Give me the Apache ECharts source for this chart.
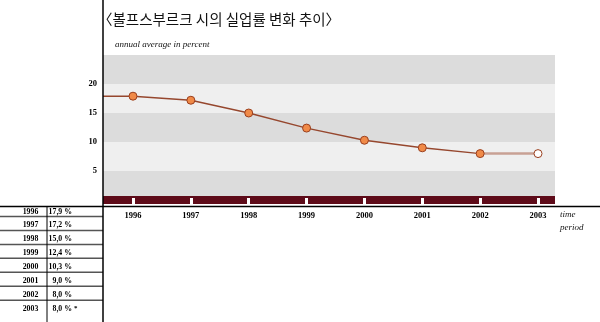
<!DOCTYPE html>
<html>
<head>
<meta charset="utf-8">
<script src="https://cdn.jsdelivr.net/npm/echarts@6/dist/echarts.min.js"></script>
<style>
  html, body { margin: 0; padding: 0; background: #fff; }
  #chart { width: 600px; height: 322px; }
</style>
</head>
<body>
<div id="chart"></div>
<script>
// Unemployment rate, Wolfsburg, annual average in percent
const years = [1996, 1997, 1998, 1999, 2000, 2001, 2002, 2003];
const rates = [17.9, 17.2, 15.0, 12.4, 10.3, 9.0, 8.0, 8.0];
const estimatedYears = [2003];
const yTickValues = [5, 10, 15, 20];
const bandEdges = [0, 5, 10, 15, 20, 25];
const titleText = '〈볼프스부르크 시의 실업률 변화 추이〉';
const unitText = 'annual average in percent';
const xAxisName = ['time', 'period'];

// Layout & style
const X_MIN = 1995.4815, X_MAX = 2003.2938;
const SERIF = '"Liberation Serif", "DejaVu Serif", serif';
const LINE_COLOR = '#96472e';
const LINE_LIGHT = '#c8a194';
const MARKER_FILL = '#f08a48';
const MARKER_EDGE = '#9a3f1e';
const MAROON = '#5e0b19';
const BAND_DARK = '#dcdcdc';
const BAND_LIGHT = '#efefef';

const fmt = v => v.toFixed(1).replace('.', ',') + ' %';

const chart = echarts.init(document.getElementById('chart'), null, { renderer: 'canvas' });

const isEst = y => estimatedYears.indexOf(y) >= 0;
const actualData = [];
years.forEach((y, i) => { if (!isEst(y)) actualData.push([y, rates[i]]); });
const lastActualIdx = actualData.length - 1;
const estData = [{ value: actualData[lastActualIdx], symbol: 'none' }];
years.forEach((y, i) => {
  if (isEst(y)) estData.push({ value: [y, rates[i]], itemStyle: { color: '#ffffff' } });
});

// alternating background bands
const bands = [];
for (let i = 0; i < bandEdges.length - 1; i++) {
  bands.push([
    { yAxis: bandEdges[i], itemStyle: { color: i % 2 === 0 ? BAND_DARK : BAND_LIGHT } },
    { yAxis: bandEdges[i + 1] }
  ]);
}

const axisFont = { fontFamily: SERIF, fontWeight: 'bold', fontSize: 8.5, color: '#000' };

// side table
const tableGraphics = [];
const ROW0 = 211.5, ROW_H = 13.95;
const TABLE_FONT = 'bold 7.8px ' + SERIF;
years.forEach((y, i) => {
  const cy = ROW0 + ROW_H * i;
  tableGraphics.push({
    type: 'text', x: 30.5, y: cy, z: 10,
    style: { text: String(y), font: TABLE_FONT, fill: '#000', align: 'center', verticalAlign: 'middle' }
  });
  tableGraphics.push({
    type: 'text', x: 72, y: cy, z: 10,
    style: { text: fmt(rates[i]), font: TABLE_FONT, fill: '#000', align: 'right', verticalAlign: 'middle' }
  });
  if (isEst(y)) {
    tableGraphics.push({
      type: 'text', x: 74, y: cy - 1, z: 10,
      style: { text: '*', font: 'bold 7px ' + SERIF, fill: '#000', align: 'left', verticalAlign: 'middle' }
    });
  }
  if (i < years.length - 1) {
    tableGraphics.push({
      type: 'line', z: 10,
      shape: { x1: 0, y1: cy + 5, x2: 103, y2: cy + 5 },
      style: { stroke: '#555', lineWidth: 1.5 }
    });
  }
});

const option = {
  animation: false,
  backgroundColor: '#ffffff',
  grid: { left: 103, right: 45, top: 55, bottom: 122 },
  xAxis: [
    {
      type: 'value', min: X_MIN, max: X_MAX, position: 'bottom', offset: 2, z: 5,
      axisLine: { show: true, lineStyle: { color: MAROON, width: 8, cap: 'butt' } },
      axisTick: { show: false },
      splitLine: { show: false },
      axisLabel: Object.assign({
        customValues: years, margin: 9,
        formatter: v => String(v)
      }, axisFont)
    },
    {
      type: 'value', min: X_MIN, max: X_MAX, position: 'bottom', offset: 6, z: 6,
      axisLine: { show: false },
      axisLabel: { show: false },
      splitLine: { show: false },
      axisTick: { show: true, inside: true, length: 8, customValues: years, lineStyle: { color: '#ffffff', width: 3 } }
    }
  ],
  yAxis: {
    type: 'value', min: 0, max: 25, interval: 5,
    axisLine: { show: false },
    splitLine: { show: false },
    axisTick: { show: true, inside: true, length: 30, customValues: yTickValues, lineStyle: { color: '#000', width: 1.5 } },
    axisLabel: Object.assign({ customValues: yTickValues, margin: 6 }, axisFont)
  },
  series: [
    {
      type: 'line', z: 3, silent: true,
      data: [[X_MIN, rates[0]], [years[0], rates[0]]],
      symbol: 'none',
      lineStyle: { color: LINE_COLOR, width: 1.4 },
      markArea: { silent: true, data: bands, z: 1 }
    },
    {
      type: 'line', z: 4,
      data: estData,
      symbol: 'circle', symbolSize: 8,
      lineStyle: { color: LINE_LIGHT, width: 2.5 },
      itemStyle: { color: '#fff', borderColor: MARKER_EDGE, borderWidth: 1 }
    },
    {
      type: 'line', z: 5,
      data: actualData,
      symbol: 'circle', symbolSize: 8,
      lineStyle: { color: LINE_COLOR, width: 1.4 },
      itemStyle: { color: MARKER_FILL, borderColor: MARKER_EDGE, borderWidth: 1 }
    }
  ],
  graphic: [
    { type: 'line', z: 20, shape: { x1: 103, y1: 0, x2: 103, y2: 322 }, style: { stroke: '#000', lineWidth: 1.5 } },
    { type: 'line', z: 20, shape: { x1: 0, y1: 206.5, x2: 600, y2: 206.5 }, style: { stroke: '#000', lineWidth: 1.5 } },
    { type: 'line', z: 20, shape: { x1: 47, y1: 206, x2: 47, y2: 322 }, style: { stroke: '#000', lineWidth: 1 } },
    {
      type: 'text', x: 98, y: 19, z: 20,
      style: { text: titleText, font: '14.5px "Noto Sans CJK KR", sans-serif', fill: '#111', verticalAlign: 'middle' }
    },
    {
      type: 'text', x: 115, y: 45, z: 20,
      style: { text: unitText, font: 'italic 9px ' + SERIF, fill: '#111', verticalAlign: 'middle' }
    },
    {
      type: 'text', x: 560, y: 215, z: 20,
      style: { text: xAxisName[0], font: 'italic 9px ' + SERIF, fill: '#111', verticalAlign: 'middle' }
    },
    {
      type: 'text', x: 560, y: 228, z: 20,
      style: { text: xAxisName[1], font: 'italic 9px ' + SERIF, fill: '#111', verticalAlign: 'middle' }
    }
  ].concat(tableGraphics)
};

chart.setOption(option);
</script>
</body>
</html>
